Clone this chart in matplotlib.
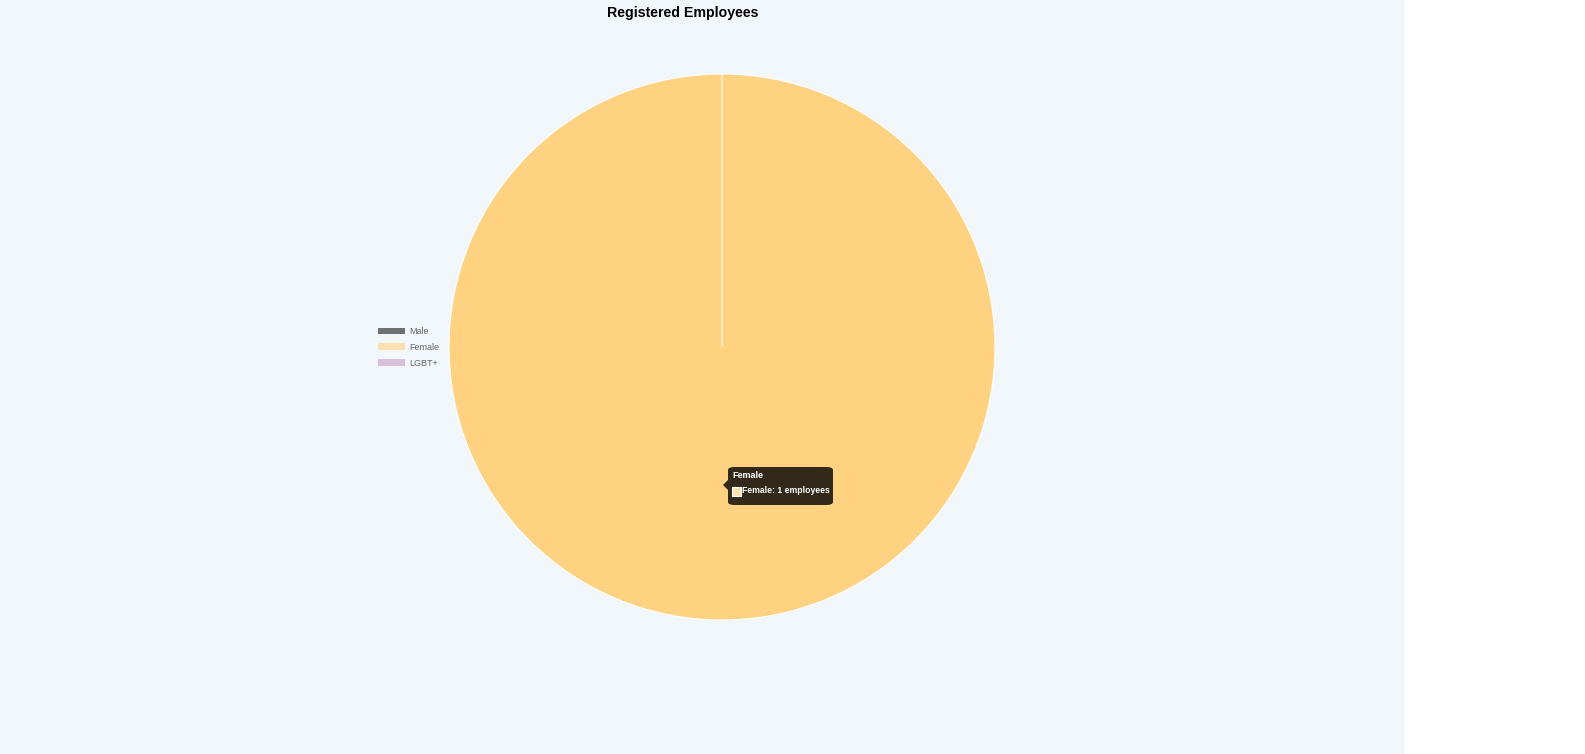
import matplotlib.pyplot as plt
from matplotlib.patches import Patch, Rectangle, FancyBboxPatch, Polygon

plt.rcParams['font.family'] = ['Liberation Sans', 'DejaVu Sans']

# data
labels = ['Male', 'Female', 'LGBT+']
counts = [0, 1, 0]
slice_colors = ['#707070', '#FFD281', '#D9BFDC']   # pie (Female slice hovered)
legend_colors = ['#707070', '#FBE0B0', '#D9BFDC']
hovered = 1

W, H = 1585, 754
fig = plt.figure(figsize=(W / 100, H / 100), dpi=100)
fig.patch.set_facecolor('white')


def fx(px):
    return px / W


def fy(py):
    return 1 - py / H


# light blue panel
fig.patches.append(Rectangle((0, 0), fx(1405), 1, transform=fig.transFigure,
                             facecolor='#F2F7FB', edgecolor='none', zorder=-5))

# pie
cx, cy, r = 722, 347, 273
ax = fig.add_axes([fx(cx - r), fy(cy + r), r * 2 / W, r * 2 / H])
ax.pie(counts, colors=slice_colors, startangle=90, counterclock=False,
       wedgeprops=dict(edgecolor='white', linewidth=0.8))
ax.set_xlim(-1, 1)
ax.set_ylim(-1, 1)
ax.set_aspect('equal')
ax.axis('off')

# title
fig.text(fx(683), fy(13), 'Registered Employees', ha='center', va='center',
         fontsize=10.2, fontweight='bold', color='black')

# legend
handles = [Patch(facecolor=c, edgecolor='none') for c in legend_colors]
fig.legend(handles, labels, loc='upper left', bbox_to_anchor=(fx(378), fy(327)),
           frameon=False, fontsize=6.5, labelcolor='#666666',
           handlelength=3.0, handleheight=0.7, handletextpad=0.45,
           labelspacing=0.75, borderpad=0, borderaxespad=0)

# tooltip
bx0, by0, bx1, by1 = 728, 467, 833, 505
fig.patches.append(FancyBboxPatch((fx(bx0), fy(by1)), fx(bx1 - bx0), (by1 - by0) / H,
                                  boxstyle='round,pad=0,rounding_size=0.004',
                                  transform=fig.transFigure, facecolor='#33291A',
                                  edgecolor='none', zorder=5))
fig.patches.append(Polygon([(fx(bx0), fy(480)), (fx(bx0 - 5), fy(485)), (fx(bx0), fy(490))],
                           closed=True, transform=fig.transFigure,
                           facecolor='#33291A', edgecolor='none', zorder=5))
fig.text(fx(732), fy(476), labels[hovered], ha='left', va='center',
         fontsize=6.5, fontweight='bold', color='white', zorder=6)
fig.patches.append(Rectangle((fx(732), fy(496)), fx(9), 9 / H, transform=fig.transFigure,
                             facecolor=legend_colors[hovered], edgecolor='white',
                             linewidth=0.8, zorder=6))
fig.text(fx(742), fy(491), f'{labels[hovered]}: {counts[hovered]} employees',
         ha='left', va='center', fontsize=6.2, fontweight='bold', color='white', zorder=6)

fig.savefig('out.png', dpi=100, facecolor=fig.get_facecolor())
